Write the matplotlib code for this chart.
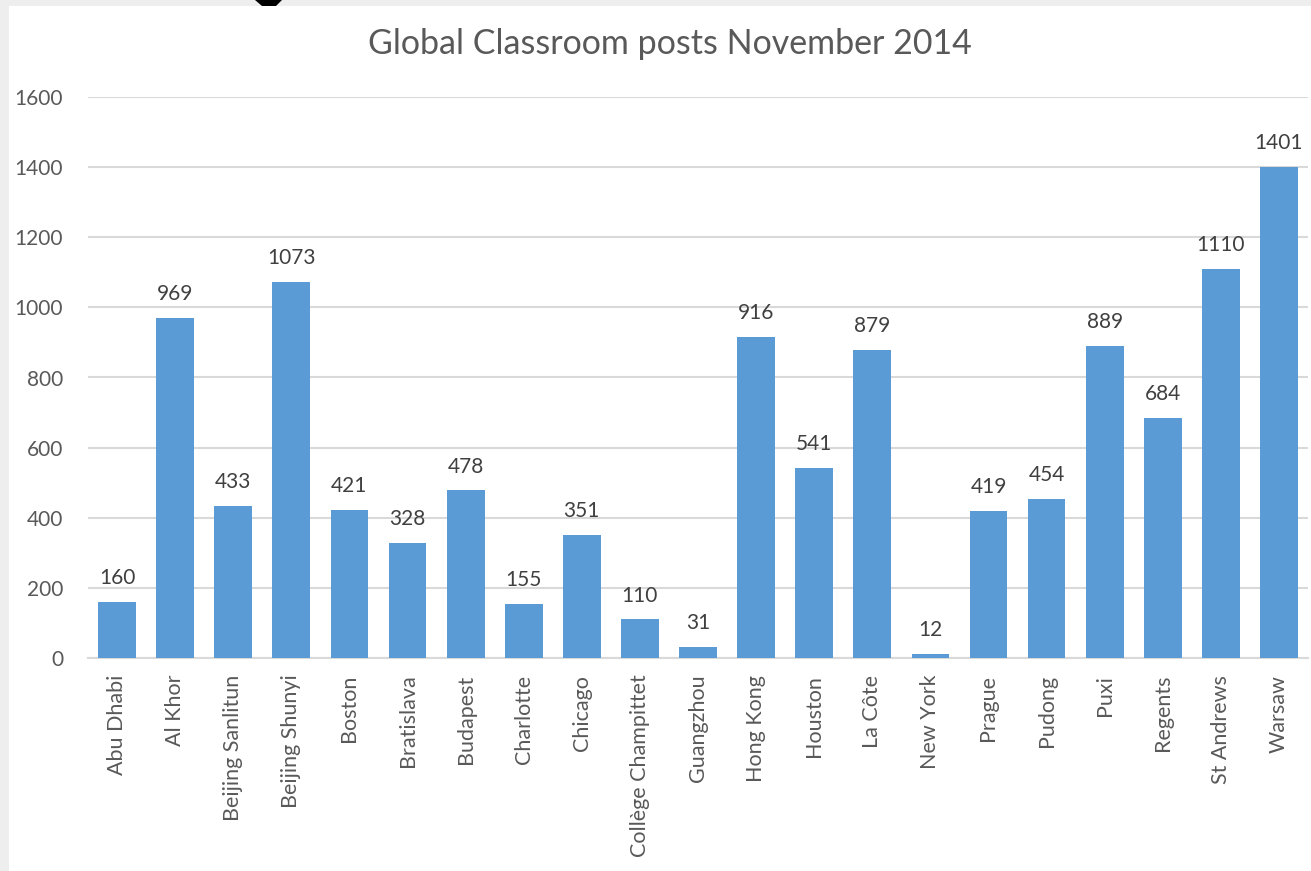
import matplotlib.pyplot as plt
from matplotlib.patches import Rectangle, Polygon

plt.rcParams['font.family'] = ['Lato', 'DejaVu Sans']

schools = ["Abu Dhabi", "Al Khor", "Beijing Sanlitun", "Beijing Shunyi", "Boston",
           "Bratislava", "Budapest", "Charlotte", "Chicago", "Collège Champittet",
           "Guangzhou", "Hong Kong", "Houston", "La Côte", "New York", "Prague",
           "Pudong", "Puxi", "Regents", "St Andrews", "Warsaw"]
posts = [160, 969, 433, 1073, 421, 328, 478, 155, 351, 110, 31,
         916, 541, 879, 12, 419, 454, 889, 684, 1110, 1401]
yticks = [0, 200, 400, 600, 800, 1000, 1200, 1400, 1600]

W, H = 1311, 871
fig = plt.figure(figsize=(W / 100, H / 100), dpi=100, facecolor='#eeeeee')

# white chart background with a grey border at left and top
fig.patches.append(Rectangle((9 / W, 0), 1, 1 - 6 / H, transform=fig.transFigure,
                             facecolor='white', edgecolor='none', zorder=-2))
fig.patches.append(Polygon([(255 / W, 1), (282 / W, 1), (276 / W, 1 - 6 / H), (262 / W, 1 - 6 / H)],
                           closed=True, transform=fig.transFigure,
                           facecolor='black', edgecolor='none', zorder=-1))

ax = fig.add_axes([88 / W, (H - 658) / H, 1220 / W, 561 / H])
ax.set_facecolor('none')
ax.set_zorder(2)

x = list(range(len(schools)))
bars = ax.bar(x, posts, width=0.65, color='#5b9bd5', zorder=3)

for xi, v in zip(x, posts):
    ax.annotate(str(v), (xi, v), xytext=(0, 10), textcoords='offset points',
                ha='center', va='bottom', fontsize=15, color='#404040')

ax.set_xlim(-0.5, len(schools) - 0.5)
ax.set_ylim(0, 1600)
ax.set_yticks(yticks)
ax.set_yticklabels([str(t) for t in yticks], fontsize=15, color='#595959')
ax.set_xticks(x)
ax.set_xticklabels(schools, rotation=90, fontsize=15.5, color='#595959')
ax.tick_params(axis='y', length=0, pad=18)
ax.tick_params(axis='x', length=0, pad=12)

ax.grid(axis='y', color='#d9d9d9', linewidth=1.5, zorder=0)
for s in ['top', 'right', 'left']:
    ax.spines[s].set_visible(False)
ax.spines['bottom'].set_color('#d9d9d9')
ax.spines['bottom'].set_linewidth(1.5)

fig.text(670 / W, 1 - 44 / H, "Global Classroom posts November 2014",
         ha='center', va='center', fontsize=24.5, color='#595959')

fig.savefig('out.png', dpi=100, facecolor=fig.get_facecolor())
